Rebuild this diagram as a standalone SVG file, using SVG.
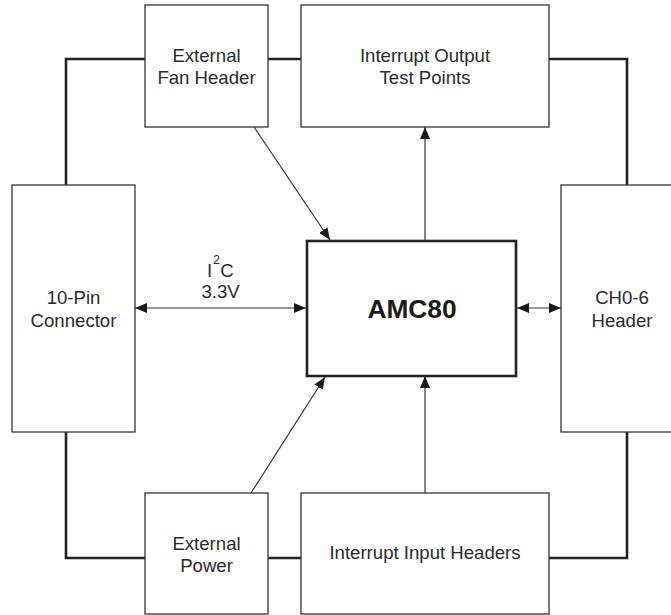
<svg xmlns="http://www.w3.org/2000/svg" width="671" height="615" viewBox="0 0 671 615">
<style>
.box{fill:#fff;stroke:#333;stroke-width:1.3}
.main{fill:#fff;stroke:#222;stroke-width:2.6}
.bus{fill:none;stroke:#222;stroke-width:2.6}
.wire{fill:none;stroke:#333;stroke-width:1.2}
text{font-family:"Liberation Sans",Arial,sans-serif;font-size:18.6px;fill:#2a2a2a;text-anchor:middle}
.bold{font-weight:bold;font-size:26.3px;fill:#1a1a1a}
</style>
<defs>
<marker id="ah" markerUnits="userSpaceOnUse" markerWidth="12" markerHeight="10" refX="12" refY="5" orient="auto-start-reverse" viewBox="0 0 12 10">
<path d="M0,0 L12,5 L0,10 z" fill="#1a1a1a"/>
</marker>
</defs>
<rect width="671" height="615" fill="#fff"/>
<g id="connectors">
<path class="bus" d="M145,59 H66 V185"/>
<path class="bus" d="M268,59 H301"/>
<path class="bus" d="M549,59 H627 V185"/>
<path class="bus" d="M66,432 V558 H145"/>
<path class="bus" d="M268,558 H301"/>
<path class="bus" d="M549,558 H627 V432"/>
<path class="wire" d="M254,127 L330,240" marker-end="url(#ah)"/>
<path class="wire" d="M251,493 L325,377" marker-end="url(#ah)"/>
<path class="wire" d="M425,241 V127" marker-end="url(#ah)"/>
<path class="wire" d="M425,493 V376" marker-end="url(#ah)"/>
<path class="wire" d="M135,308 H306" marker-start="url(#ah)" marker-end="url(#ah)"/>
<path class="wire" d="M517,308 H561" marker-start="url(#ah)" marker-end="url(#ah)"/>
<g id="i2c-label">
<text x="209.5" y="277">I</text>
<text x="216.5" y="264" style="font-size:12.5px">2</text>
<text x="227" y="277">C</text>
<text x="220.5" y="298">3.3V</text>
</g>
</g>
<g id="fan">
<rect class="box" x="145" y="5" width="123" height="122"/>
<text x="206.5" y="62">External</text>
<text x="206.5" y="84">Fan Header</text>
</g>
<g id="intout">
<rect class="box" x="301" y="5" width="248" height="122"/>
<text x="425" y="62">Interrupt Output</text>
<text x="425" y="84">Test Points</text>
</g>
<g id="pin10">
<rect class="box" x="12" y="185" width="123" height="247"/>
<text x="73.5" y="304">10-Pin</text>
<text x="73.5" y="326.5">Connector</text>
</g>
<g id="amc80">
<rect class="main" x="307" y="241" width="209" height="135"/>
<text class="bold" x="412" y="317.5">AMC80</text>
</g>
<g id="ch06">
<rect class="box" x="561" y="185" width="120" height="247"/>
<text x="622" y="304">CH0-6</text>
<text x="622" y="326.5">Header</text>
</g>
<g id="power">
<rect class="box" x="145" y="493" width="123" height="121"/>
<text x="206.5" y="549.5">External</text>
<text x="206.5" y="571.5">Power</text>
</g>
<g id="intin">
<rect class="box" x="301" y="493" width="248" height="121"/>
<text x="425" y="558.5">Interrupt Input Headers</text>
</g>
</svg>
